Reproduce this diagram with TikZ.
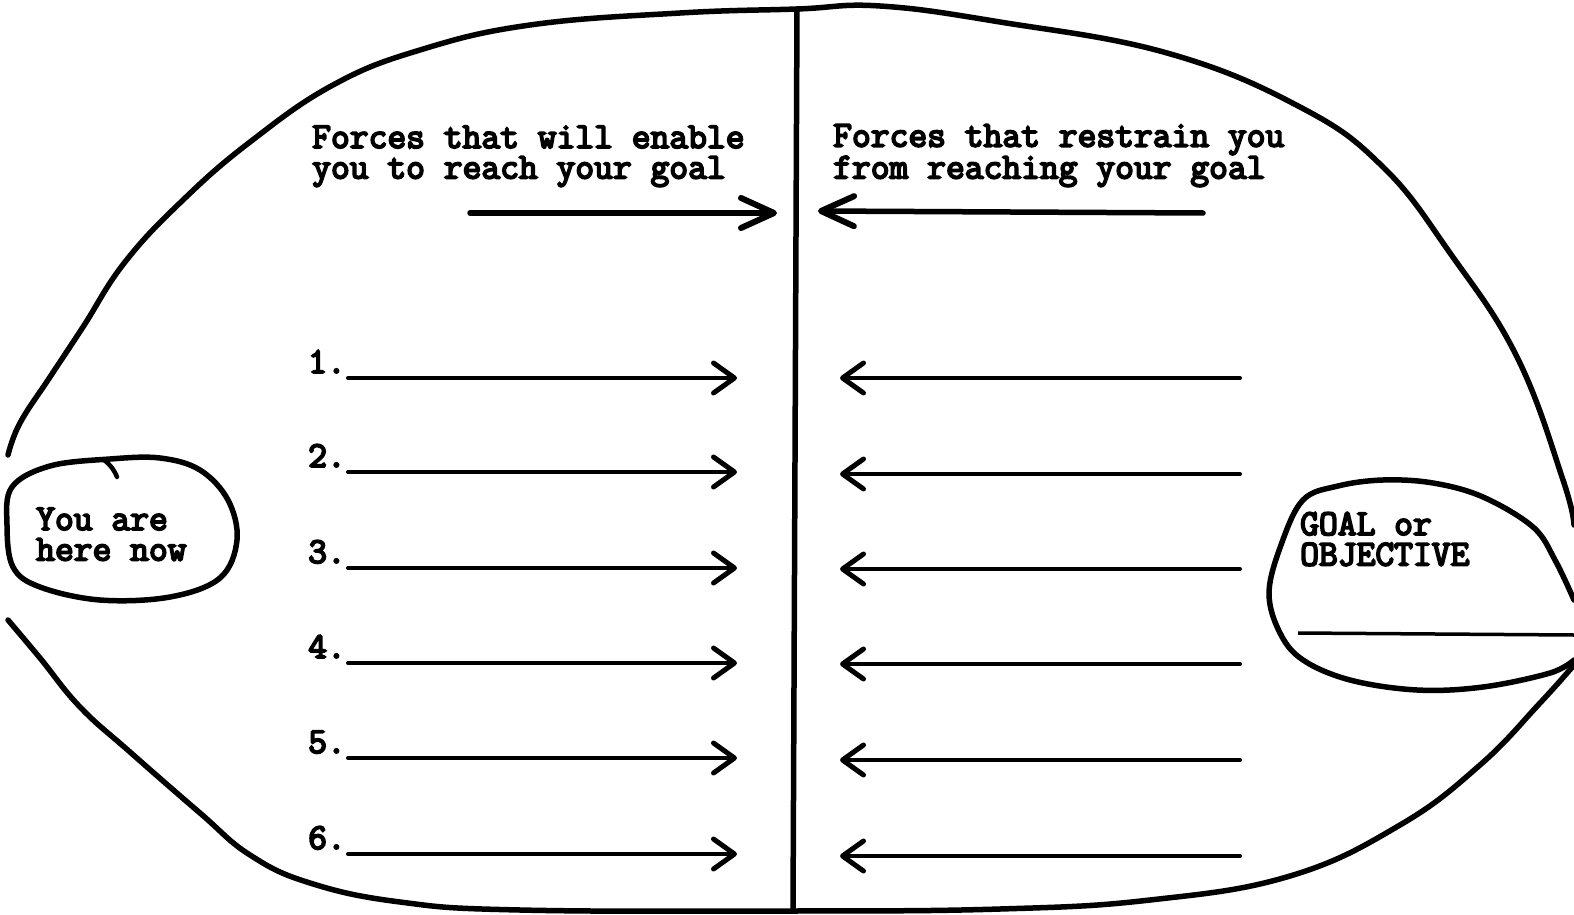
\documentclass[tikz,border=0pt]{standalone}
\usepackage{fontspec}
\newfontfamily\tw{Latin Modern Mono}[FakeBold=5]
\usetikzlibrary{arrows.meta}
\begin{document}
\begin{tikzpicture}[x=1pt,y=-1pt,
  pen/.style={line width=5.5pt, line cap=round, line join=round},
  rowfwd/.style={line width=4pt, line cap=round,
    -{Straight Barb[length=21pt,width=30pt,line width=5pt,round]}},
  topfwd/.style={line width=5.5pt, line cap=round,
    -{Straight Barb[length=33pt,width=30pt,line width=6pt,round]}},
  lbl/.style={anchor=base west, inner sep=0pt, align=left,
    font=\tw\fontsize{36.5}{30.5}\selectfont}
]
\useasboundingbox (0,0) rectangle (1574,915);
% outer outline
\draw[pen] plot[smooth, tension=0.7] coordinates {(8,455) (20,423) (50,377) (83,327) (125,262) (183,200) (250,142) (333,85) (420,50) (530,25) (680,13) (797,9) (880,6) (1000,22) (1167,53) (1300,107) (1383,167) (1450,253) (1517,357) (1563,480) (1574,525)};
\draw[pen] plot[smooth, tension=0.7] coordinates {(8,620) (40,658) (80,707) (130,752) (200,813) (250,855) (310,883) (400,902) (520,910) (793,911) (1000,909) (1150,900) (1290,876) (1400,825) (1480,765) (1540,703) (1574,665)};
% divider
\coordinate (dtop) at (797,9);
\coordinate (dbot) at (793,911);
\draw[pen] (dtop) -- (dbot);
% you are here oval
\draw[pen] plot[smooth cycle, tension=0.6] coordinates {(110,459) (160,458) (200,470) (228,500) (237,540) (220,578) (170,597) (100,600) (40,587) (13,567) (7,525) (12,487) (50,466)};
\draw[pen, line width=4.5pt] (104,460) to[bend left=15] (117,477);
% goal oval
\draw[pen] plot[smooth, tension=0.6] coordinates {(1574,600) (1555,560) (1533,527) (1483,497) (1433,483) (1383,480) (1338,486) (1303,500) (1281,545) (1269,593) (1280,633) (1303,660) (1350,680) (1417,690) (1483,687) (1550,673) (1574,660)};
\coordinate (gus) at (1298,633);
\coordinate (gue) at (1574,635);
\draw[line width=3.5pt] (gus) -- (gue);
% headings (base anchor = baseline of last line)
\node[lbl] (h1) at (312,178.5) {Forces that will enable\\you to reach your goal};
\node[lbl] (h2) at (833,178.5) {Forces that restrain you\\from reaching your goal};
\node[lbl] (here) at (36,560.5) {You are\\here now};
\node[lbl] (goal) at (1300,565.5) {GOAL or\\OBJECTIVE};
% top arrows
\coordinate (tls) at (470,213);
\coordinate (tle) at (777,213);
\coordinate (trs) at (1203,213);
\coordinate (tre) at (818,211);
\draw[topfwd] (tls) -- (tle);
\draw[topfwd] (trs) -- (tre);
% rows
\foreach \n/\yl/\yr in {1/378/378, 2/472/474, 3/568/569, 4/663/664, 5/758/760, 6/854/856}{
  \node[lbl] (num\n) at (308,\yl-5) {\n.};
  \coordinate (ls\n) at (348,\yl);
  \coordinate (le\n) at (737,\yl);
  \coordinate (rs\n) at (1240,\yr);
  \coordinate (re\n) at (840,\yr);
  \draw[rowfwd] (ls\n) -- (le\n);
  \draw[rowfwd] (rs\n) -- (re\n);
}
\end{tikzpicture}
\end{document}
